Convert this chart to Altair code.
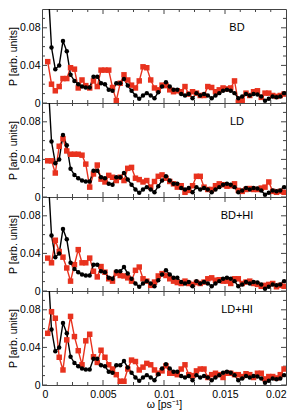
import altair as alt
import pandas as pd

omega = [0.00047, 0.00078, 0.00109, 0.00141, 0.00172, 0.00203, 0.00234, 0.00266, 0.00297, 0.00328,
         0.00359, 0.00391, 0.00422, 0.00453, 0.00484, 0.00516, 0.00547, 0.00578, 0.00609, 0.00641,
         0.00672, 0.00703, 0.00734, 0.00766, 0.00797, 0.00828, 0.00859, 0.00891, 0.00922, 0.00953,
         0.00984, 0.01016, 0.01047, 0.01078, 0.01109, 0.01141, 0.01172, 0.01203, 0.01234, 0.01266,
         0.01297, 0.01328, 0.01359, 0.01391, 0.01422, 0.01453, 0.01484, 0.01516, 0.01547, 0.01578,
         0.01609, 0.01641, 0.01672, 0.01703, 0.01734, 0.01766, 0.01797, 0.01828, 0.01859, 0.01891,
         0.01922, 0.01953, 0.01984]

black = [0.13, 0.059, 0.036, 0.040, 0.066, 0.055, 0.030, 0.0235, 0.020, 0.0175,
         0.0165, 0.0165, 0.028, 0.028, 0.021, 0.020, 0.014, 0.013, 0.021, 0.021,
         0.0255, 0.0185, 0.013, 0.008, 0.0045, 0.008, 0.0105, 0.008, 0.005, 0.0115,
         0.0175, 0.022, 0.0175, 0.014, 0.014, 0.0095, 0.008, 0.0095, 0.005, 0.0105,
         0.008, 0.0095, 0.008, 0.005, 0.008, 0.0105, 0.013, 0.014, 0.013, 0.0105,
         0.005, 0.007, 0.0095, 0.008, 0.0095, 0.009, 0.007, 0.0025, 0.0045, 0.007,
         0.006, 0.007, 0.0105]

red_bd = [0.044, 0.020, 0.013, 0.0175, 0.026, 0.026, 0.0375, 0.036, 0.016, 0.0245,
          0.0185, 0.016, 0.0235, 0.0175, 0.035, 0.035, 0.035, 0.0165, 0.0025, 0.021,
          0.030, 0.0245, 0.019, 0.016, 0.0235, 0.0385, 0.0375, 0.0245, 0.016, 0.014,
          0.019, 0.0185, 0.014, 0.012, 0.013, 0.012, 0.0175, 0.0095, 0.012, 0.0105,
          0.008, 0.008, 0.0175, 0.0165, 0.012, 0.014, 0.016, 0.015, 0.016, 0.0235,
          0.001, 0.0025, 0.0105, 0.008, 0.012, 0.013, 0.006, 0.0105, 0.0105, 0.008,
          0.007, 0.008, 0.0095]

red_ld = [0.0385, 0.0385, 0.0255, 0.054, 0.062, 0.049, 0.0455, 0.0455, 0.0455, 0.0445,
          0.035, 0.0105, 0.0245, 0.034, 0.019, 0.016, 0.023, 0.021, 0.0175, 0.021,
          0.0175, 0.0305, 0.0315, 0.020, 0.0185, 0.016, 0.0175, 0.0105, 0.0165, 0.022,
          0.0235, 0.020, 0.0165, 0.014, 0.0105, 0.012, 0.005, 0.007, 0.012, 0.022,
          0.022, 0.0105, 0.008, 0.008, 0.012, 0.014, 0.013, 0.0115, 0.012, 0.014,
          0.007, 0.006, 0.008, 0.009, 0.008, 0.008, 0.0095, 0.0105, 0.016, 0.006,
          0.005, 0.006, 0.005]

red_bdhi = [0.035, 0.030, 0.054, 0.042, 0.036, 0.0245, 0.0105, 0.028, 0.044, 0.030,
            0.030, 0.035, 0.021, 0.015, 0.026, 0.020, 0.013, 0.0105, 0.019, 0.0165,
            0.016, 0.014, 0.0105, 0.022, 0.0255, 0.013, 0.0105, 0.006, 0.0095, 0.016,
            0.0185, 0.0165, 0.013, 0.0105, 0.009, 0.008, 0.0105, 0.008, 0.007, 0.009,
            0.008, 0.0095, 0.013, 0.014, 0.0115, 0.012, 0.0105, 0.0105, 0.008, 0.013,
            0.013, 0.008, 0.0095, 0.0105, 0.008, 0.007, 0.005, 0.006, 0.007, 0.008,
            0.0045, 0.006, 0.005]

red_ldhi = [0.055, 0.078, 0.071, 0.0295, 0.016, 0.048, 0.073, 0.0515, 0.0365, 0.0215,
            0.047, 0.054, 0.030, 0.024, 0.037, 0.0295, 0.0215, 0.017, 0.011, 0.004,
            0.004, 0.017, 0.0265, 0.025, 0.016, 0.019, 0.023, 0.0215, 0.016, 0.0125,
            0.015, 0.0205, 0.0125, 0.0125, 0.011, 0.017, 0.0215, 0.011, 0.010, 0.015,
            0.017, 0.017, 0.008, 0.011, 0.0125, 0.011, 0.008, 0.0125, 0.0125, 0.011,
            0.011, 0.009, 0.012, 0.011, 0.008, 0.0125, 0.0125, 0.0065, 0.009, 0.009,
            0.0075, 0.011, 0.017]

panel_names = ["BD", "LD", "BD+HI", "LD+HI"]
red_series = [red_bd, red_ld, red_bdhi, red_ldhi]

y_labels = [0, 0.04, 0.08]
y_major_ticks = [0, 0.04, 0.08]
y_minor_ticks = [0.01, 0.02, 0.03, 0.05, 0.06, 0.07, 0.09]
x_labels = [0, 0.005, 0.01, 0.015, 0.02]
x_major_ticks = [0.005, 0.01, 0.015]
x_minor_ticks = [0.00125, 0.0025, 0.00375, 0.00625, 0.0075, 0.00875,
                 0.01125, 0.0125, 0.01375, 0.01625, 0.0175, 0.01875]

W = 244
H = 94
RED = "#e8321e"
FRAME = "#444444"
FONT = "Liberation Sans"

xscale = alt.Scale(domain=[0, 0.02], nice=False, zero=False)
yscale = alt.Scale(domain=[0, 0.1], nice=False)


def make_panel(name, reds, show_x):
    rows = []
    for o, v in zip(omega, reds):
        rows.append({"x": o, "y": v, "s": "red"})
    for o, v in zip(omega, black):
        rows.append({"x": o, "y": v, "s": "black"})
    df = pd.DataFrame(rows)

    if show_x:
        xaxis = alt.Axis(values=x_labels, format="~g", title="ω [ps⁻¹]", ticks=False,
                         domain=False, grid=False, labelPadding=4, titlePadding=0)
    else:
        xaxis = None
    yaxis = alt.Axis(values=y_labels, format="~g", title="P [arb. units]", ticks=False,
                     domain=False, grid=False, labelPadding=2, titlePadding=1)

    X = alt.X("x:Q", scale=xscale, axis=xaxis)
    Y = alt.Y("y:Q", scale=yscale, axis=yaxis)
    col = alt.Color("s:N", scale=alt.Scale(domain=["red", "black"], range=[RED, "black"]), legend=None)
    shp = alt.Shape("s:N", scale=alt.Scale(domain=["red", "black"], range=["square", "circle"]), legend=None)

    layers = []
    ymaj = pd.DataFrame({"y": y_major_ticks})
    ymin = pd.DataFrame({"y": y_minor_ticks})
    xmaj = pd.DataFrame({"x": x_major_ticks})
    xmin = pd.DataFrame({"x": x_minor_ticks})
    for d, ln in [(ymaj, 5), (ymin, 3)]:
        layers.append(alt.Chart(d).mark_rule(color=FRAME, strokeWidth=1).encode(
            y=Y, x=alt.value(0), x2=alt.value(ln)))
        layers.append(alt.Chart(d).mark_rule(color=FRAME, strokeWidth=1).encode(
            y=Y, x=alt.value(W - ln), x2=alt.value(W)))
    for d, ln in [(xmaj, 5), (xmin, 3)]:
        layers.append(alt.Chart(d).mark_rule(color=FRAME, strokeWidth=1).encode(
            x=X, y=alt.value(H), y2=alt.value(H - ln)))
        layers.append(alt.Chart(d).mark_rule(color=FRAME, strokeWidth=1).encode(
            x=X, y=alt.value(0), y2=alt.value(ln)))

    base = alt.Chart(df)
    layers.append(base.mark_line(strokeWidth=1.4, clip=True).encode(
        x=X, y=Y, color=col, detail="s:N", order=alt.Order("x:Q")))
    layers.append(base.mark_point(filled=True, opacity=1, clip=True).encode(
        x=X, y=Y, color=col, shape=shp,
        size=alt.Size("s:N", scale=alt.Scale(domain=["red", "black"], range=[30, 20]), legend=None)))

    lab = pd.DataFrame({"t": [name]})
    layers.append(alt.Chart(lab).mark_text(font=FONT, fontSize=11, color="black",
                                           align="center", baseline="middle").encode(
        text="t:N", x=alt.value(195), y=alt.value(19)))

    return alt.layer(*layers).properties(width=W, height=H)


panels = [make_panel(n, r, i == 3) for i, (n, r) in enumerate(zip(panel_names, red_series))]

chart = alt.vconcat(*panels, spacing=0, bounds="flush").properties(
    padding={"left": 0, "top": 0, "right": 0, "bottom": 0}
).configure_view(
    stroke=FRAME, strokeWidth=1
).configure_axis(
    labelFont=FONT, titleFont=FONT, labelFontSize=10.5, titleFontSize=10.5,
    titleFontWeight="normal", labelColor="black", titleColor="black"
)

chart.save("out.html", embed_options={"renderer": "svg", "actions": False})
